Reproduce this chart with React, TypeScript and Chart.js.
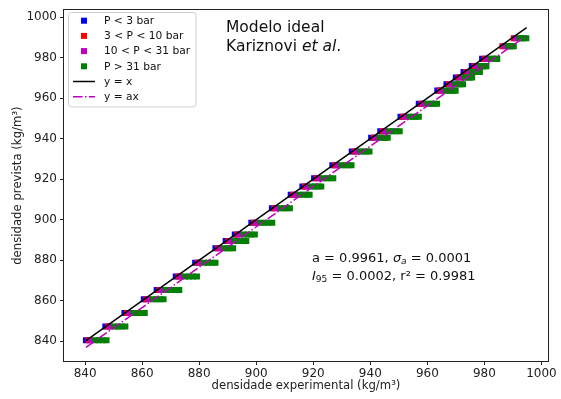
import React, { useEffect, useRef } from 'react';
import { Chart, registerables } from 'chart.js';

Chart.register(...registerables);

const FONT = '"DejaVu Sans", sans-serif';

// predicted density levels (y)
const predLevels = [840.5, 847.3, 854.0, 860.8, 865.3, 872.0, 878.8, 885.9, 889.5, 892.7, 898.5, 905.7, 912.3, 916.4, 920.5, 926.9, 933.7, 940.5, 943.7, 950.8, 957.2, 963.7, 966.9, 970.2, 972.9, 975.8, 979.4, 985.6, 989.6];

// experimental density (x) per pressure class, same index as predLevels
const blueExp: (number | null)[] = [840.3, 847.1, 853.8, 860.6, 865.1, 871.8, 878.6, 885.7, 889.3, 892.5, 898.3, 905.5, 912.1, 916.2, 920.3, 926.7, 933.5, 940.3, 943.5, 950.6, 957.0, 963.5, 966.7, 970.0, 972.7, 975.6, 979.2, null, null];
const redExp = [841.2, 848.0, 854.7, 861.5, 866.0, 872.7, 879.5, 886.6, 890.2, 893.4, 899.2, 906.4, 913.0, 917.1, 921.2, 927.6, 934.4, 941.2, 944.4, 951.5, 957.9, 964.4, 967.6, 970.9, 973.6, 976.5, 980.1, 986.3, 990.3];
const magentaExp = [841.9, 848.7, 855.4, 862.2, 866.7, 873.4, 880.2, 887.3, 890.9, 894.1, 899.9, 907.1, 913.7, 917.8, 921.9, 928.3, 935.1, 941.9, 945.1, 952.2, 958.6, 965.1, 968.3, 971.6, 974.3, 977.2, 980.8, 987.0, 991.0];
const greenExp = [
  [843.5, 844.8, 846.1, 847.5],
  [850.3, 851.6, 852.8, 854.1],
  [857.0, 858.3, 859.6, 860.9],
  [863.8, 865.0, 866.3, 867.5],
  [868.3, 869.6, 870.9, 872.2, 873.0],
  [875.0, 876.4, 877.8, 879.2],
  [881.8, 883.1, 884.4, 885.7],
  [888.9, 889.9, 890.9, 891.9],
  [892.5, 893.8, 895.2, 896.5],
  [895.7, 897.0, 898.3, 899.5],
  [901.5, 902.9, 904.2, 905.6],
  [908.7, 909.7, 910.8, 911.8],
  [915.3, 916.4, 917.6, 918.7],
  [919.4, 920.5, 921.7, 922.8],
  [923.5, 924.7, 925.8, 927.0],
  [929.9, 931.1, 932.3, 933.4],
  [936.6, 937.6, 938.7, 939.7],
  [943.3, 944.2, 945.2, 946.1],
  [946.7, 947.9, 949.1, 950.3],
  [953.8, 954.9, 956.0, 957.0],
  [960.1, 961.2, 962.3, 963.4],
  [966.6, 967.7, 968.8, 969.9],
  [969.8, 970.7, 971.6, 972.5],
  [973.1, 974.0, 974.9, 975.7],
  [975.8, 976.7, 977.6, 978.4],
  [978.7, 979.4, 980.0, 980.7],
  [982.3, 983.0, 983.8, 984.5],
  [988.3, 989.0, 989.6, 990.3],
  [992.4, 993.2, 993.9, 994.7],
];

// reference lines
const idealX = [840.3, 994.8];
const idealY = [840.3, 994.8];
const fitX = [840.3, 994.8];
const fitY = [837.0, 990.9];

const xTicks = [840, 860, 880, 900, 920, 940, 960, 980, 1000];
const yTicks = [840, 860, 880, 900, 920, 940, 960, 980, 1000];
const xLimits = [832.6, 1002.3];
const yLimits = [830.3, 1003.4];

const seriesLabels = ['P < 3 bar', '3 < P < 10 bar', '10 < P < 31 bar', 'P > 31 bar', 'y = x', 'y = ax'];
const xTitle = 'densidade experimental (kg/m³)';
const yTitle = 'densidade prevista (kg/m³)';

const COL_BLUE = '#0000ff';
const COL_RED = '#ff0000';
const COL_MAG = '#bf00bf';
const COL_GREEN = '#008000';
const DASHDOT = [9.6, 2.4, 1.5, 2.4];

type Part = { t: string; it?: boolean; sub?: boolean };

function drawRich(ctx: CanvasRenderingContext2D, x: number, y: number, parts: Part[], size: number) {
  let cx = x;
  for (const p of parts) {
    const s = p.sub ? size * 0.7 : size;
    ctx.font = `${p.it ? 'italic ' : ''}${s}px ${FONT}`;
    ctx.fillText(p.t, cx, y + (p.sub ? size * 0.22 : 0));
    cx += ctx.measureText(p.t).width;
  }
}

const framePlugin = {
  id: 'frame',
  afterDatasetsDraw(chart: any) {
    const { ctx, chartArea } = chart;
    ctx.save();
    ctx.strokeStyle = '#222';
    ctx.lineWidth = 1;
    const l = Math.round(chartArea.left) - 0.5;
    const t = Math.round(chartArea.top) - 0.5;
    const r = Math.round(chartArea.right) + 0.5;
    const b = Math.round(chartArea.bottom) + 0.5;
    ctx.strokeRect(l, t, r - l, b - t);
    ctx.restore();
  },
};

const legendPlugin = {
  id: 'mplLegend',
  afterDraw(chart: any) {
    const ctx: CanvasRenderingContext2D = chart.ctx;
    ctx.save();
    const bx = 68.5, by = 12.5, bw = 127.5, bh = 94.5;
    ctx.beginPath();
    (ctx as any).roundRect(bx, by, bw, bh, 3);
    ctx.fillStyle = 'rgba(255,255,255,0.85)';
    ctx.fill();
    ctx.strokeStyle = '#d0d0d0';
    ctx.lineWidth = 1;
    ctx.stroke();
    const items = chart.data.datasets.filter((d: any) => d.legendKind);
    items.forEach((d: any, i: number) => {
      const cy = 20.7 + i * 15.2;
      if (d.legendKind === 'marker') {
        ctx.fillStyle = d.backgroundColor;
        ctx.fillRect(81, cy - 3, 6, 6);
      } else {
        ctx.beginPath();
        ctx.strokeStyle = d.borderColor;
        ctx.lineWidth = 1.5;
        ctx.setLineDash(d.borderDash || []);
        ctx.moveTo(73, cy);
        ctx.lineTo(95, cy);
        ctx.stroke();
        ctx.setLineDash([]);
      }
      ctx.fillStyle = '#111';
      ctx.font = `10.7px ${FONT}`;
      ctx.textBaseline = 'middle';
      ctx.textAlign = 'left';
      ctx.fillText(d.label, 104, cy + 0.5);
    });
    ctx.restore();
  },
};

const annotationPlugin = {
  id: 'annot',
  afterDraw(chart: any) {
    const ctx: CanvasRenderingContext2D = chart.ctx;
    ctx.save();
    ctx.fillStyle = '#111';
    ctx.textBaseline = 'alphabetic';
    ctx.textAlign = 'left';
    drawRich(ctx, 226, 32, [{ t: 'Modelo ideal' }], 15.5);
    drawRich(ctx, 226, 50.5, [{ t: 'Kariznovi ' }, { t: 'et al', it: true }, { t: '.' }], 15.5);
    drawRich(ctx, 312, 261.5, [
      { t: 'a = 0.9961, ' },
      { t: 'σ', it: true },
      { t: 'a', it: true, sub: true },
      { t: ' = 0.0001' },
    ], 13);
    drawRich(ctx, 312, 279.5, [
      { t: 'I', it: true },
      { t: '95', sub: true },
      { t: ' = 0.0002, r² = 0.9981' },
    ], 13);
    ctx.restore();
  },
};

export default function App() {
  const ref = useRef<HTMLCanvasElement | null>(null);

  useEffect(() => {
    document.body.style.margin = '0';
    const canvas = ref.current;
    if (!canvas) return;

    const bluePts = blueExp
      .map((x, i) => (x == null ? null : { x, y: predLevels[i] }))
      .filter((p) => p !== null);
    const redPts = redExp.map((x, i) => ({ x, y: predLevels[i] }));
    const magPts = magentaExp.map((x, i) => ({ x, y: predLevels[i] }));
    const greenPts = greenExp.flatMap((row, i) => row.map((x) => ({ x, y: predLevels[i] })));
    const idealPts = idealX.map((x, i) => ({ x, y: idealY[i] }));
    const fitPts = fitX.map((x, i) => ({ x, y: fitY[i] }));

    const pointDs = (label: string, data: any[], color: string, order: number) => ({
      type: 'scatter' as const,
      label,
      data,
      backgroundColor: color,
      borderColor: color,
      pointStyle: 'rect',
      pointRadius: 4.3,
      pointBorderWidth: 0,
      order,
      legendKind: 'marker',
    });

    const chart = new Chart(canvas, {
      type: 'scatter',
      data: {
        datasets: [
          pointDs(seriesLabels[0], bluePts, COL_BLUE, 6),
          pointDs(seriesLabels[1], redPts, COL_RED, 5),
          pointDs(seriesLabels[2], magPts, COL_MAG, 4),
          pointDs(seriesLabels[3], greenPts, COL_GREEN, 3),
          {
            type: 'line',
            label: seriesLabels[4],
            data: idealPts,
            borderColor: '#000',
            backgroundColor: '#000',
            borderWidth: 1.5,
            pointRadius: 0,
            fill: false,
            order: 2,
            legendKind: 'line',
          } as any,
          {
            type: 'line',
            label: seriesLabels[5],
            data: fitPts,
            borderColor: COL_MAG,
            backgroundColor: COL_MAG,
            borderWidth: 1.5,
            borderDash: DASHDOT,
            pointRadius: 0,
            fill: false,
            order: 1,
            legendKind: 'line',
          } as any,
        ] as any,
      },
      options: {
        animation: false,
        responsive: false,
        events: [],
        layout: { padding: { left: 0, right: 13, top: 6, bottom: 0 } },
        plugins: {
          legend: { display: false },
          tooltip: { enabled: false },
        },
        scales: {
          x: {
            type: 'linear',
            min: xLimits[0],
            max: xLimits[1],
            afterBuildTicks: (axis: any) => {
              axis.ticks = xTicks.map((v) => ({ value: v }));
            },
            afterFit: (s: any) => {
              s.height = 38;
            },
            grid: { drawOnChartArea: false, drawTicks: true, tickLength: 4, color: '#222', lineWidth: 1 },
            border: { display: false },
            ticks: {
              color: '#222',
              font: { family: FONT, size: 12 },
              padding: 2,
              maxRotation: 0,
              autoSkip: false,
              callback: (v: any) => String(v),
            },
            title: {
              display: true,
              text: xTitle,
              color: '#222',
              font: { family: FONT, size: 11.7 },
              padding: { top: 0, bottom: 6 },
            },
          },
          y: {
            type: 'linear',
            min: yLimits[0],
            max: yLimits[1],
            afterBuildTicks: (axis: any) => {
              axis.ticks = yTicks.map((v) => ({ value: v }));
            },
            afterFit: (s: any) => {
              s.width = 64;
            },
            grid: { drawOnChartArea: false, drawTicks: true, tickLength: 4, color: '#222', lineWidth: 1 },
            border: { display: false },
            ticks: {
              color: '#222',
              font: { family: FONT, size: 12 },
              padding: 3,
              autoSkip: false,
              callback: (v: any) => String(v),
            },
            title: {
              display: true,
              text: yTitle,
              color: '#222',
              font: { family: FONT, size: 11.7 },
              padding: { top: 11, bottom: 0 },
            },
          },
        },
      } as any,
      plugins: [framePlugin, legendPlugin, annotationPlugin],
    });

    return () => chart.destroy();
  }, []);

  return (
    <div style={{ width: 561, height: 399, background: '#fff' }}>
      <canvas ref={ref} width={561} height={399} style={{ display: 'block' }} />
    </div>
  );
}
